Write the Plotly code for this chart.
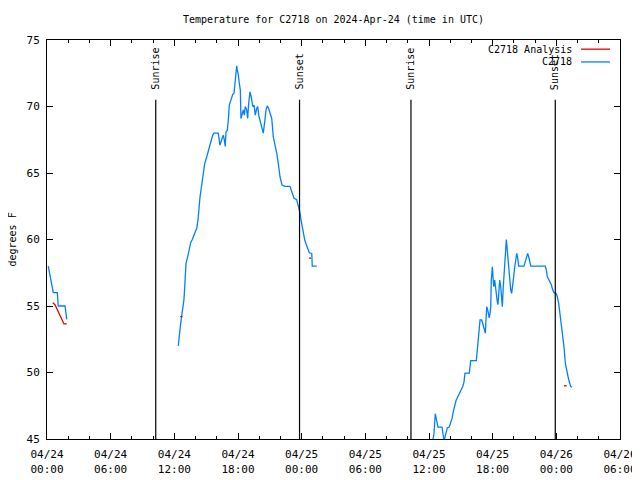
import plotly.graph_objects as go

# hours since 2024-04-24 00:00 UTC, temperatures in degrees F
obs_hours_1 = [0.12, 0.59, 0.97, 1.06, 1.70, 1.86]
obs_temp_1 = [58.0, 56.0, 56.0, 55.0, 55.0, 54.0]

obs_hours_2 = [12.37, 12.47, 12.60, 12.69, 12.79, 12.91, 12.98, 13.03, 13.10, 13.26, 13.38, 13.54,
               13.69, 13.92, 14.11, 14.23, 14.30, 14.42, 14.58, 14.73, 14.86, 15.05, 15.20, 15.39,
               15.62, 15.74, 16.14, 16.30, 16.46, 16.61, 16.71, 16.80, 16.87, 16.99, 17.09, 17.18,
               17.34, 17.50, 17.62, 17.75, 17.88, 17.93, 18.03, 18.12, 18.22, 18.28, 18.41, 18.50,
               18.59, 18.69, 18.82, 18.91, 19.01, 19.13, 19.25, 19.39, 19.51, 19.63, 19.76, 19.86,
               19.95, 20.07, 20.20, 20.29, 20.38, 20.52, 20.64, 20.76, 20.89, 21.02, 21.18, 21.33,
               21.49, 21.65, 21.80, 21.96, 22.15, 22.43, 22.90, 23.09, 23.28, 23.53, 23.72, 23.84,
               23.94, 24.06, 24.15, 24.29, 24.44, 24.57, 24.72, 24.95, 25.00, 25.42]
obs_temp_2 = [52.0, 52.95, 53.7, 54.25, 54.7, 55.5, 56.45, 57.45, 58.2, 58.7, 59.2, 59.76,
              60.0, 60.47, 60.84, 61.47, 62.47, 63.2, 64.1, 64.85, 65.7, 66.2, 66.7, 67.2,
              67.85, 68.0, 68.0, 67.1, 67.5, 67.85, 67.5, 67.0, 68.1, 68.2, 69.0, 70.1,
              70.5, 70.9, 71.0, 72.0, 73.05, 72.75, 72.4, 71.75, 71.25, 69.1, 69.5, 69.75,
              69.35, 70.0, 69.75, 69.1, 70.25, 71.1, 70.7, 70.0, 70.1, 69.35, 69.85, 70.0,
              69.35, 69.0, 68.6, 68.35, 68.0, 68.85, 69.75, 70.05, 69.85, 69.5, 69.1, 67.7,
              67.2, 66.5, 65.7, 64.7, 64.1, 64.0, 64.0, 63.5, 63.1, 63.0, 62.5, 62.0,
              61.47, 60.97, 60.3, 59.96, 59.6, 59.3, 59.0, 58.95, 58.0, 58.0]

obs_hours_3 = [36.38, 36.47, 36.59, 36.66, 36.73, 36.85, 37.23, 37.35, 37.41, 37.48, 37.60, 37.73,
               37.91, 38.05, 38.17, 38.29, 38.42, 38.55, 38.67, 38.80, 38.92, 39.04, 39.18, 39.30,
               39.39, 39.80, 39.86, 39.93, 40.46, 40.52, 40.59, 40.71, 40.81, 40.97, 41.09, 41.21,
               41.31, 41.37, 41.44, 41.53, 41.63, 41.68, 41.75, 41.82, 41.87, 41.97, 42.03, 42.10,
               42.19, 42.29, 42.34, 42.44, 42.50, 42.57, 42.66, 42.76, 42.81, 42.91, 43.00, 43.10,
               43.19, 43.29, 43.35, 43.45, 43.51, 43.63, 43.70, 43.79, 43.89, 43.98, 44.08, 44.17,
               44.27, 44.36, 44.45, 44.95, 45.08, 45.21, 45.30, 45.40, 45.59, 46.96, 47.06, 47.15,
               47.28, 47.40, 47.53, 47.66, 47.78, 47.97, 48.09, 48.22, 48.35, 48.47, 48.60, 48.72,
               48.85, 48.98, 49.10, 49.22, 49.36, 49.48]
obs_temp_3 = [45.0, 45.4, 46.9, 46.55, 46.4, 45.9, 45.9, 45.15, 44.9, 45.05, 45.4, 45.85,
              45.9, 46.2, 46.55, 47.05, 47.55, 47.9, 48.1, 48.3, 48.5, 48.7, 48.95, 49.3,
              49.95, 49.95, 50.45, 50.9, 50.9, 51.45, 52.45, 53.45, 53.95, 53.95, 53.6, 53.3,
              52.95, 53.95, 54.95, 54.7, 54.3, 54.1, 54.45, 54.95, 56.95, 57.95, 57.2, 56.45,
              56.95, 56.2, 55.7, 55.3, 55.1, 55.95, 56.95, 56.45, 55.95, 54.95, 56.45, 57.95,
              59.45, 60.0, 59.45, 58.45, 57.6, 56.95, 56.2, 55.95, 56.45, 57.2, 57.95, 58.45,
              58.95, 58.6, 58.0, 58.0, 58.3, 58.7, 58.95, 58.7, 58.0, 58.0, 57.7, 57.2,
              56.95, 56.8, 56.6, 56.2, 56.0, 55.95, 55.7, 55.2, 54.45, 53.45, 52.7, 51.95,
              50.7, 50.05, 49.7, 49.3, 48.95, 48.9]

ana_hours_1 = [0.54, 0.75, 1.60, 1.86]
ana_temp_1 = [55.25, 55.1, 53.65, 53.65]
ana_hours_2 = [12.56, 12.76]
ana_temp_2 = [54.2, 54.2]
ana_hours_3 = [24.69, 24.88]
ana_temp_3 = [58.6, 58.6]
ana_hours_4 = [48.72, 48.98]
ana_temp_4 = [49.0, 49.0]

sun_events = ["Sunrise", "Sunset", "Sunrise", "Sunset"]
sun_hours = [10.25, 23.8, 34.3, 47.9]

tick_hours = [0, 6, 12, 18, 24, 30, 36, 42, 48, 54]
tick_labels = ["04/24<br>00:00", "04/24<br>06:00", "04/24<br>12:00", "04/24<br>18:00",
               "04/25<br>00:00", "04/25<br>06:00", "04/25<br>12:00", "04/25<br>18:00",
               "04/26<br>00:00", "04/26<br>06:00"]

FONT = "DejaVu Sans Mono"
RED = "#e00000"
BLUE = "#0080ff"

# the page body adds an 8px offset; size the figure so the plot lands where the reference has it
PAGE_OFFSET = 8
FIG_W, FIG_H = 640 - PAGE_OFFSET, 480 - PAGE_OFFSET


def join(*segs):
    xs, ys = [], []
    for i in range(0, len(segs), 2):
        if xs:
            xs.append(None)
            ys.append(None)
        xs += segs[i]
        ys += segs[i + 1]
    return xs, ys


ax, ay = join(ana_hours_1, ana_temp_1, ana_hours_2, ana_temp_2,
              ana_hours_3, ana_temp_3, ana_hours_4, ana_temp_4)
bx, by = join(obs_hours_1, obs_temp_1, obs_hours_2, obs_temp_2, obs_hours_3, obs_temp_3)

fig = go.Figure()
fig.add_trace(go.Scatter(x=bx, y=by, mode="lines", name="C2718",
                         line=dict(color=BLUE, width=1.3), connectgaps=False))
fig.add_trace(go.Scatter(x=ax, y=ay, mode="lines", name="C2718 Analysis",
                         line=dict(color=RED, width=1.3), connectgaps=False))

for name, h in zip(sun_events, sun_hours):
    fig.add_shape(type="line", x0=h, x1=h, y0=45, y1=70.5, xref="x", yref="y",
                  line=dict(color="black", width=1.2))
    fig.add_annotation(x=h, y=71.1, xref="x", yref="y", text=name, textangle=-90,
                       showarrow=False, xanchor="center", yanchor="bottom",
                       font=dict(family=FONT, size=10, color="black"))

# legend drawn gnuplot-style (text then sample line)
legend_rows = [("C2718 Analysis", RED, 0.977), ("C2718", BLUE, 0.945)]
for label, col, yp in legend_rows:
    fig.add_annotation(x=0.9197, y=yp, xref="paper", yref="paper", text=label,
                       showarrow=False, xanchor="right", yanchor="middle",
                       font=dict(family=FONT, size=10, color="black"))
    fig.add_shape(type="line", x0=0.932, x1=0.9825, y0=yp, y1=yp, xref="paper", yref="paper",
                  line=dict(color=col, width=1.3))

fig.add_annotation(x=0, y=0.5, xref="paper", yref="paper", text="degrees F", textangle=-90,
                   showarrow=False, xanchor="center", yanchor="middle", xshift=-35,
                   font=dict(family=FONT, size=10, color="black"))

fig.update_layout(
    width=FIG_W, height=FIG_H,
    margin=dict(l=47 - PAGE_OFFSET, r=20, t=40 - PAGE_OFFSET, b=41, autoexpand=False),
    paper_bgcolor="white", plot_bgcolor="white",
    showlegend=False,
    title=dict(text="Temperature for C2718 on 2024-Apr-24 (time in UTC)",
               x=0.5, xref="paper", xanchor="center",
               y=1 - (19 - PAGE_OFFSET) / FIG_H, yref="container", yanchor="middle",
               font=dict(family=FONT, size=10, color="black")),
    font=dict(family=FONT, size=10, color="black"),
)
fig.update_xaxes(range=[0, 54], tickvals=tick_hours, ticktext=tick_labels, automargin=False,
                 ticks="inside", ticklen=6, tickcolor="black", showgrid=False, zeroline=False,
                 showline=True, linecolor="black", linewidth=1, mirror="ticks",
                 ticklabelstandoff=5,
                 minor=dict(dtick=2, ticks="inside", ticklen=3, tickcolor="black", showgrid=False),
                 tickfont=dict(family=FONT, size=11, color="black"))
fig.update_yaxes(range=[45, 75], dtick=5, ticks="inside", ticklen=6, tickcolor="black",
                 automargin=False, ticklabelstandoff=4,
                 showgrid=False, zeroline=False, showline=True, linecolor="black", linewidth=1,
                 mirror="ticks", tickfont=dict(family=FONT, size=11, color="black"))

fig.write_html("out.html")
